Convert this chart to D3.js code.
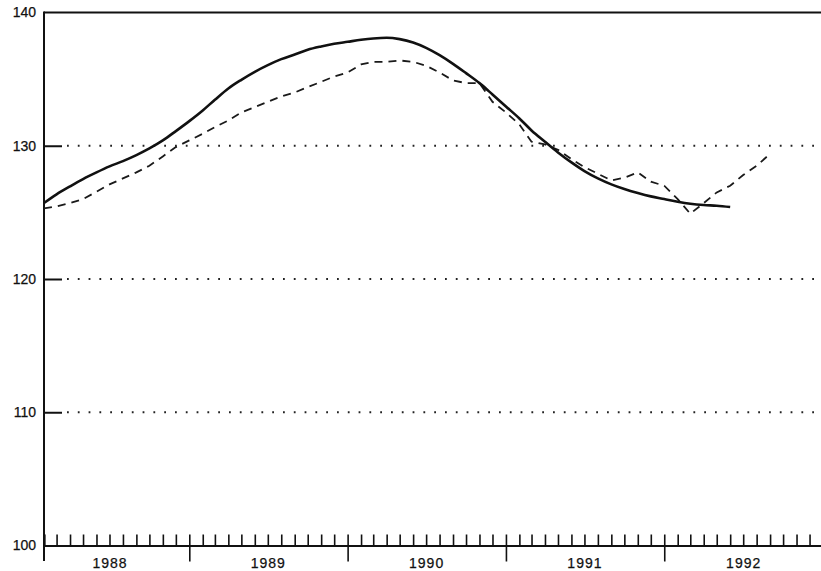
<!DOCTYPE html>
<html>
<head>
<meta charset="utf-8">
<script src="https://cdn.jsdelivr.net/npm/d3@7"></script>
<style>
  body { margin: 0; background: #fff; }
  svg { display: block; }
  .axis text { font-family: "Liberation Sans", Arial, sans-serif; font-size: 14px; fill: #111; stroke: #111; stroke-width: 0.25px; }
  .years text { letter-spacing: 1px; }
</style>
</head>
<body>
<svg id="chart" width="821" height="571"></svg>
<script>
// monthly observations, first one is Feb 1988
var firstMonth = new Date(1988, 1, 1);

// solid line (trend), Feb 1988 .. Jun 1992
var trendValues = [
  125.7, 126.35, 126.95, 127.5, 128.0, 128.45, 128.85, 129.3, 129.8, 130.4, 131.1,
  131.85, 132.65, 133.45, 134.3, 134.95, 135.55, 136.05, 136.5, 136.85, 137.2, 137.45, 137.65,
  137.8, 137.95, 138.05, 138.1, 138.0, 137.75, 137.35, 136.8, 136.15, 135.45, 134.7, 133.85,
  132.95, 132.05, 131.15, 130.3, 129.5, 128.75, 128.1, 127.55, 127.1, 126.75, 126.45, 126.2,
  126.0, 125.8, 125.65, 125.55, 125.5, 125.4
];

// dashed line (actual), Feb 1988 .. Sep 1992
var actualValues = [
  125.3, 125.45, 125.7, 126.0, 126.55, 127.1, 127.55, 128.0, 128.5, 129.2, 129.9,
  130.4, 130.9, 131.4, 131.9, 132.5, 132.9, 133.3, 133.7, 134.0, 134.4, 134.8, 135.2,
  135.5, 136.1, 136.3, 136.3, 136.4, 136.3, 136.0, 135.5, 134.9, 134.7, 134.7, 133.3,
  132.5, 131.6, 130.3, 130.1, 129.7, 129.0, 128.4, 127.9, 127.4, 127.6, 128.0, 127.3,
  127.0, 126.0, 124.9, 125.7, 126.5, 127.0, 127.8, 128.5, 129.4
];

var yTicks = [100, 110, 120, 130, 140];
var gridValues = [110, 120, 130];
var yearLabels = [1988, 1989, 1990, 1991, 1992];

var svg = d3.select("#chart");

var x = d3.scaleTime()
  .domain([firstMonth, new Date(1993, 0, 1)])
  .range([44, 823]);

var y = d3.scaleLinear()
  .domain([100, 140])
  .range([545.5, 12.5]);

function monthDate(i) { return d3.timeMonth.offset(firstMonth, i); }

// dotted reference lines
svg.append("g")
  .selectAll("line")
  .data(gridValues)
  .enter()
  .append("line")
  .attr("x1", 67)
  .attr("x2", 823)
  .attr("y1", function(d) { return y(d); })
  .attr("y2", function(d) { return y(d); })
  .attr("stroke", "#222")
  .attr("stroke-width", 2)
  .attr("stroke-dasharray", "1.8 9");

// top frame line
svg.append("line")
  .attr("x1", 44).attr("x2", 823)
  .attr("y1", y(140)).attr("y2", y(140))
  .attr("stroke", "#111").attr("stroke-width", 2);

// left axis line, runs past the baseline
svg.append("line")
  .attr("x1", 44).attr("x2", 44)
  .attr("y1", y(140) - 1).attr("y2", 561)
  .attr("stroke", "#111").attr("stroke-width", 2);

// y axis: short ticks pointing into the plot, labels on the left
var yAxis = svg.append("g")
  .attr("class", "axis")
  .attr("transform", "translate(44,0)")
  .call(d3.axisLeft(y).tickValues(yTicks).tickSize(-18).tickPadding(8).tickFormat(d3.format("d")));
yAxis.select(".domain").remove();
yAxis.selectAll(".tick line").attr("stroke", "#111").attr("stroke-width", 2);
yAxis.selectAll(".tick").filter(function(d) { return d === 100 || d === 140; }).select("line").remove();

// month ticks pointing up from the baseline
var monthAxis = svg.append("g")
  .attr("transform", "translate(0," + y(100) + ")")
  .call(d3.axisBottom(x).ticks(d3.timeMonth.every(1)).tickSize(-11).tickFormat(""));
monthAxis.select(".domain").attr("stroke", "#111").attr("stroke-width", 2);
monthAxis.selectAll(".tick line").attr("stroke", "#111").attr("stroke-width", 1.6);

// year boundaries reach below the baseline
var yearAxis = svg.append("g")
  .attr("transform", "translate(0," + y(100) + ")")
  .call(d3.axisBottom(x).ticks(d3.timeYear.every(1)).tickSize(16).tickFormat(""));
yearAxis.select(".domain").remove();
yearAxis.selectAll(".tick line").attr("stroke", "#111").attr("stroke-width", 1.6);

// year labels centred in each year
var labelAxis = svg.append("g")
  .attr("class", "axis years")
  .attr("transform", "translate(0," + (y(100) + 10) + ")")
  .call(d3.axisBottom(x)
    .tickValues(yearLabels.map(function(yr) { return new Date(yr, 6, 1); }))
    .tickSize(0).tickPadding(3)
    .tickFormat(d3.timeFormat("%Y")));
labelAxis.select(".domain").remove();

var line = d3.line()
  .x(function(d, i) { return x(monthDate(i)); })
  .y(function(d) { return y(d); })
  .curve(d3.curveMonotoneX);

svg.append("path")
  .datum(actualValues)
  .attr("d", d3.line()
    .x(function(d, i) { return x(monthDate(i)); })
    .y(function(d) { return y(d); }))
  .attr("fill", "none")
  .attr("stroke", "#1a1a1a")
  .attr("stroke-width", 1.8)
  .attr("stroke-dasharray", "8 6");

svg.append("path")
  .datum(trendValues)
  .attr("d", line)
  .attr("fill", "none")
  .attr("stroke", "#111")
  .attr("stroke-width", 2.6);
</script>
</body>
</html>
